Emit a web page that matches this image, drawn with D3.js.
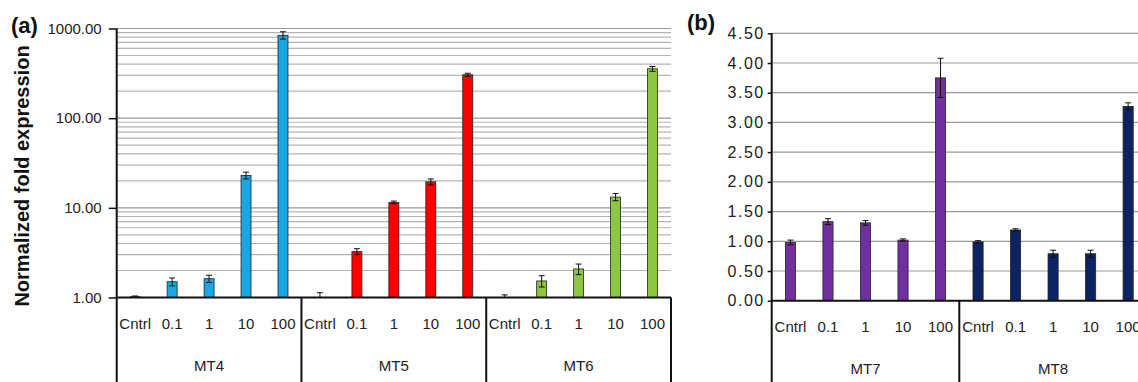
<!DOCTYPE html>
<html><head><meta charset="utf-8">
<script src="https://cdn.jsdelivr.net/npm/d3@7"></script>
<style>body{margin:0;background:#fff}svg{display:block}text{font-family:"Liberation Sans",Arial,sans-serif}</style>
</head><body>
<svg id="c" width="1138" height="382"></svg>
<script>
const categories = ["Cntrl","0.1","1","10","100"];
const groupsA = ["MT4","MT5","MT6"];
const groupsB = ["MT7","MT8"];
const mt4 = [1.02, 1.50, 1.62, 23.0, 840];
const mt4Err = [0.02, 0.15, 0.15, 2.0, 80];
const mt5 = [1.0, 3.25, 11.5, 19.5, 305];
const mt5Err = [0.13, 0.25, 0.4, 1.5, 12];
const mt6 = [1.0, 1.53, 2.08, 13.2, 355];
const mt6Err = [0.07, 0.22, 0.28, 1.2, 22];
const mt7 = [0.98, 1.33, 1.31, 1.02, 3.75];
const mt7Err = [0.04, 0.05, 0.04, 0.02, 0.33];
const mt8 = [0.99, 1.19, 0.79, 0.79, 3.27];
const mt8Err = [0.02, 0.02, 0.06, 0.06, 0.06];
const ticksA = [1, 10, 100, 1000];
const ticksB = [0, 0.5, 1, 1.5, 2, 2.5, 3, 3.5, 4, 4.5];

const colors = {MT4:"#1aa6e3", MT5:"#ff0000", MT6:"#8dc63f", MT7:"#7030a0", MT8:"#0c2463"};
const seriesA = {MT4:[mt4,mt4Err], MT5:[mt5,mt5Err], MT6:[mt6,mt6Err]};
const seriesB = {MT7:[mt7,mt7Err], MT8:[mt8,mt8Err]};

const svg = d3.select("#c");

function panel(opt){
  const {groups, series, y, x0, x1, tickVals, fmt, yBottom, yTop, minor, tickSize, tickPad, tickFont, tickSpacing} = opt;
  const keys = [];
  groups.forEach(g => categories.forEach(c => keys.push(g+"|"+c)));
  const x = d3.scaleBand().domain(keys).range([x0, x1]).paddingInner(0.73).paddingOuter(0.365);
  const gx = d3.scaleBand().domain(groups).range([x0, x1]);
  const g = svg.append("g");
  let grid = [];
  if (minor) {
    for (let d = 1; d < 1000; d *= 10) for (let m = 1; m <= 10; m++) grid.push(d*m);
    grid = Array.from(new Set(grid)).filter(v => v > 1);
  } else grid = tickVals.filter(v => v > 0);
  g.selectAll(".grid").data(grid).join("line")
    .attr("x1", x0).attr("x2", Math.min(x1, 1138)).attr("y1", d => y(d)).attr("y2", d => y(d))
    .attr("stroke", d => minor && !tickVals.includes(d) ? "#b4b4b4" : "#9a9a9a").attr("stroke-width", 1.2);
  groups.forEach(gr => {
    const [vals, errs] = series[gr];
    vals.forEach((v, i) => {
      const k = gr+"|"+categories[i];
      const bx = x(k), bw = x.bandwidth(), cx = bx + bw/2;
      const base = y(tickVals[0]);
      const top = y(v);
      if (base - top > 0.5)
        g.append("rect").attr("x", bx).attr("y", top).attr("width", bw).attr("height", base - top)
          .attr("fill", colors[gr]).attr("stroke", "#222").attr("stroke-width", 0.8);
      const hi = y(v + errs[i]), lo = Math.min(y(Math.max(v - errs[i], tickVals[0])), base);
      g.append("line").attr("x1", cx).attr("x2", cx).attr("y1", hi).attr("y2", lo).attr("stroke","#111").attr("stroke-width",1);
      g.append("line").attr("x1", cx-3).attr("x2", cx+3).attr("y1", hi).attr("y2", hi).attr("stroke","#111").attr("stroke-width",1);
      if (lo < base - 0.5)
        g.append("line").attr("x1", cx-3).attr("x2", cx+3).attr("y1", lo).attr("y2", lo).attr("stroke","#111").attr("stroke-width",1);
      g.append("text").attr("x", cx).attr("y", yBottom + 31).attr("text-anchor","middle")
        .attr("font-size", 15).attr("fill","#222").text(categories[i]);
    });
    g.append("text").attr("x", gx(gr) + gx.bandwidth()/2).attr("y", yBottom + 73).attr("text-anchor","middle")
      .attr("font-size", 15).attr("fill","#222").text(gr);
  });
  const ax = g.append("g").attr("transform", `translate(${x0},0)`)
    .call(d3.axisLeft(y).tickValues(tickVals).tickFormat(fmt).tickSize(tickSize).tickPadding(tickPad));
  ax.select(".domain").remove();
  ax.selectAll("text").attr("font-size", tickFont).attr("fill","#222")
    .style("letter-spacing", tickSpacing + "px")
    .style("font-family","'Liberation Sans',Arial,sans-serif");
  ax.selectAll("line").attr("stroke","#111").attr("stroke-width",1.5);
  g.append("line").attr("x1", x0).attr("x2", x0).attr("y1", yTop).attr("y2", 382).attr("stroke","#111").attr("stroke-width",2);
  g.append("line").attr("x1", x0).attr("x2", Math.min(x1,1138)).attr("y1", yBottom).attr("y2", yBottom).attr("stroke","#111").attr("stroke-width",2);
  groups.forEach(gr => {
    const xe = gx(gr) + gx.bandwidth();
    if (xe <= 1138)
      g.append("line").attr("x1", xe).attr("x2", xe).attr("y1", yBottom).attr("y2", 382).attr("stroke","#111").attr("stroke-width",2);
  });
}

const yA = d3.scaleLog().domain([1, 1000]).range([297.5, 28.5]);
panel({groups: groupsA, series: seriesA, y: yA, x0: 116.7, x1: 671, tickVals: ticksA,
  fmt: d3.format(".2f"), yBottom: 297.5, yTop: 28.5, minor: true, tickSize: 8, tickPad: 7, tickFont: 15, tickSpacing: 0});
const yB = d3.scaleLinear().domain([0, 4.5]).range([300.7, 33.3]);
panel({groups: groupsB, series: seriesB, y: yB, x0: 771.7, x1: 1146.9, tickVals: ticksB,
  fmt: d3.format(".2f"), yBottom: 300.7, yTop: 33.3, minor: false, tickSize: 4, tickPad: 3, tickFont: 16, tickSpacing: 1.5});

svg.append("text").attr("transform","translate(29,176) rotate(-90)").attr("text-anchor","middle")
  .attr("font-size", 20).attr("font-weight","bold").attr("fill","#111").text("Normalized fold expression");
svg.append("text").attr("x", 11).attr("y", 33).attr("font-size", 22).attr("font-weight","bold").attr("fill","#111").text("(a)");
svg.append("text").attr("x", 687).attr("y", 30).attr("font-size", 22).attr("font-weight","bold").attr("fill","#111").text("(b)");
</script>
</body></html>
